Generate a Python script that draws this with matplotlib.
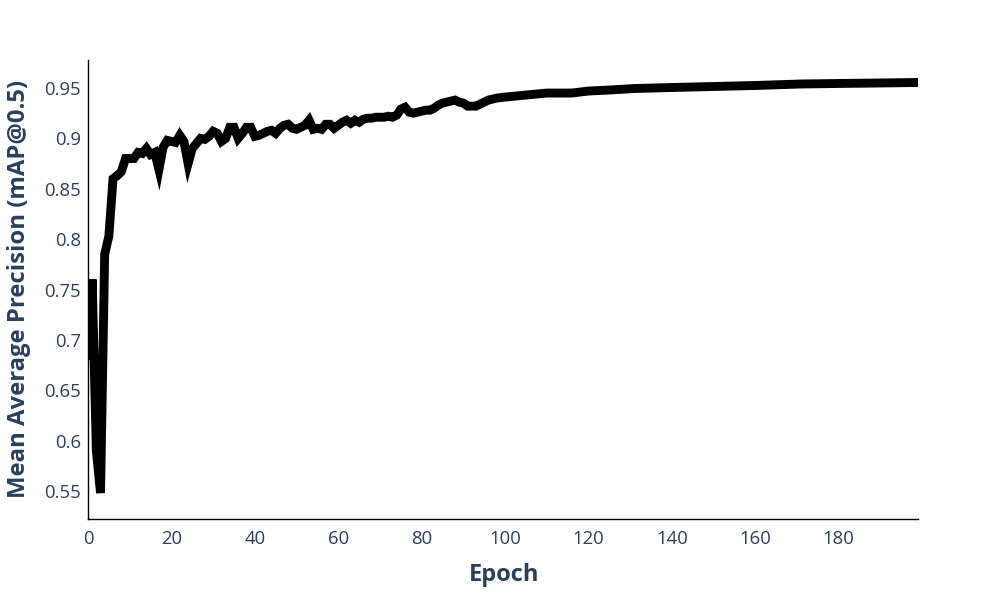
import matplotlib
matplotlib.use("Agg")
import matplotlib.pyplot as plt
from matplotlib.ticker import FuncFormatter

# ---- data ----
epochs = list(range(0, 99)) + [100, 105, 110, 116, 120, 125, 131, 140, 150, 160, 171, 180, 190, 199]
map50 = [
    0.680, 0.760, 0.590, 0.548, 0.785, 0.803, 0.860, 0.863, 0.867, 0.880,
    0.880, 0.880, 0.886, 0.885, 0.890, 0.884, 0.886, 0.869, 0.891, 0.898,
    0.897, 0.896, 0.903, 0.897, 0.875, 0.890, 0.895, 0.900, 0.899, 0.902,
    0.907, 0.905, 0.897, 0.900, 0.911, 0.911, 0.900, 0.905, 0.911, 0.911,
    0.902, 0.903, 0.905, 0.907, 0.908, 0.905, 0.910, 0.913, 0.914, 0.910,
    0.909, 0.911, 0.913, 0.918, 0.909, 0.910, 0.909, 0.914, 0.914, 0.910,
    0.913, 0.916, 0.918, 0.915, 0.918, 0.916, 0.919, 0.920, 0.920, 0.921,
    0.921, 0.921, 0.922, 0.921, 0.923, 0.929, 0.931, 0.926, 0.925, 0.926,
    0.927, 0.928, 0.928, 0.930, 0.933, 0.935, 0.936, 0.937, 0.938, 0.936,
    0.935, 0.932, 0.932, 0.932, 0.934, 0.936, 0.938, 0.939, 0.940,
    0.941, 0.943, 0.945, 0.945, 0.947, 0.948, 0.9495, 0.9505, 0.9515, 0.9525,
    0.954, 0.9545, 0.955, 0.9555,
]
x_ticks = [0, 20, 40, 60, 80, 100, 120, 140, 160, 180]
y_ticks = [0.55, 0.6, 0.65, 0.7, 0.75, 0.8, 0.85, 0.9, 0.95]
x_title = "Epoch"
y_title = "Mean Average Precision (mAP@0.5)"

TEXT = "#2a3f5f"
plt.rcParams["font.family"] = ["Open Sans", "DejaVu Sans"]

fig = plt.figure(figsize=(10, 6), dpi=100)
ax = fig.add_axes([0.088, 0.135, 0.830, 0.765])

ax.plot(epochs, map50, color="black", linewidth=6.4,
        solid_joinstyle="miter", solid_capstyle="butt", clip_on=True)

ax.set_xlim(0, 199)
ax.set_ylim(0.5222, 0.9778)
ax.set_xticks(x_ticks)
ax.set_yticks(y_ticks)
ax.yaxis.set_major_formatter(FuncFormatter(lambda v, p: f"{v:.2f}".rstrip("0")))

for s in ["top", "right"]:
    ax.spines[s].set_visible(False)
for s in ["left", "bottom"]:
    ax.spines[s].set_color("black")
    ax.spines[s].set_linewidth(1.0)

ax.tick_params(axis="both", length=0, labelsize=13.3, labelcolor=TEXT)
ax.tick_params(axis="y", pad=5)
ax.tick_params(axis="x", pad=8)

fig.text(0.504, 0.042, x_title, ha="center", va="center", fontsize=17,
         fontweight="bold", color=TEXT)
fig.text(0.019, 0.518, y_title, ha="center", va="center", rotation=90,
         fontsize=17.2, fontweight="bold", color=TEXT)

fig.savefig("out.png", dpi=100)
